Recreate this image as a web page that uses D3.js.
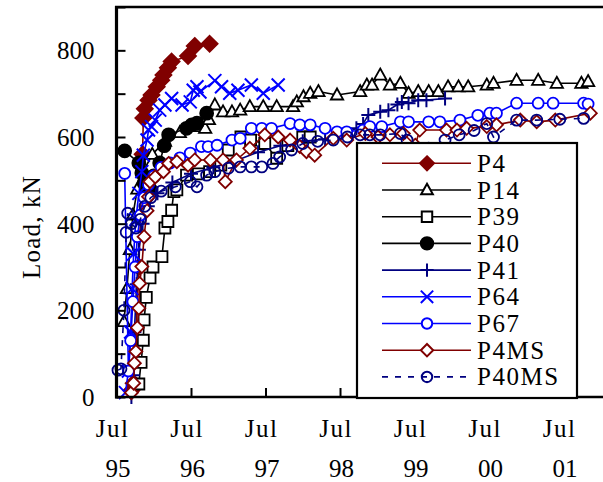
<!DOCTYPE html>
<html><head><meta charset="utf-8">
<script src="https://cdn.jsdelivr.net/npm/d3@7"></script>
<style>
body{margin:0;background:#fff}
</style>
</head><body>
<svg id="c" width="603" height="482" font-family="Liberation Serif"></svg>
<script>
// ---------- DATA (time in decimal years, load in kN) ----------
const seriesNames = ["P4","P14","P39","P40","P41","P64","P67","P4MS","P40MS"];

const p4 = [[1995.70,15],[1995.73,32],[1995.80,300],[1995.85,560],[1995.86,644],[1995.88,665],[1995.93,685],[1995.97,697],[1996.04,716],[1996.10,731],[1996.13,743],[1996.19,760],[1996.24,774],[1996.46,787],[1996.55,810],[1996.75,815]];

const p14 = [[1995.60,174],[1995.64,250],[1995.68,340],[1995.72,420],[1995.78,480],[1995.86,520],[1995.98,560],[1996.15,590],[1996.35,610],[1996.62,624],[1996.69,620],[1996.74,640],[1996.82,674],[1996.93,658],[1997.05,658],[1997.16,662],[1997.29,670],[1997.47,670],[1997.65,670],[1997.87,670],[1997.92,681],[1998.01,693],[1998.10,701],[1998.21,705],[1998.46,697],[1998.77,705],[1998.86,720],[1998.93,720],[1999.04,743],[1999.17,720],[1999.31,724],[1999.42,701],[1999.55,705],[1999.69,705],[1999.82,705],[1999.95,716],[2000.09,716],[2000.22,716],[2000.47,720],[2000.56,724],[2000.87,731],[2001.16,731],[2001.41,724],[2001.74,724],[2001.83,728]];

const p39 = [[1995.80,30],[1995.83,80],[1995.86,131],[1995.87,178],[1995.90,230],[1995.95,275],[1995.99,300],[1996.11,324],[1996.15,390],[1996.19,405],[1996.24,431],[1996.27,474],[1996.31,478],[1996.44,512],[1996.60,515],[1996.75,520],[1996.90,535],[1997.00,570],[1997.17,600],[1997.30,593],[1997.49,585],[1997.65,551],[1997.80,580],[1998.00,600],[1998.10,600]];

const p40 = [[1995.61,568],[1995.80,540],[1995.84,517],[1995.87,494],[1995.90,470],[1995.95,480],[1996.00,510],[1996.08,540],[1996.14,580],[1996.20,605],[1996.44,620],[1996.51,628],[1996.58,632],[1996.71,655]];

const p41 = [[1995.70,0],[1995.72,50],[1995.74,150],[1995.77,260],[1995.80,340],[1995.85,400],[1995.92,440],[1996.05,470],[1996.25,495],[1996.50,515],[1996.80,530],[1997.10,545],[1997.40,565],[1997.70,580],[1998.00,590],[1998.30,595],[1998.55,605],[1998.72,620],[1998.81,630],[1998.88,651],[1999.04,658],[1999.15,662],[1999.27,675],[1999.33,681],[1999.42,678],[1999.55,685],[1999.66,685],[1999.91,689]];

const p64 = [[1995.62,10],[1995.66,60],[1995.69,150],[1995.71,250],[1995.73,330],[1995.76,410],[1995.80,470],[1995.84,520],[1995.86,558],[1995.91,593],[1995.93,616],[1995.97,624],[1996.02,639],[1996.08,662],[1996.15,674],[1996.24,689],[1996.38,674],[1996.49,681],[1996.53,708],[1996.58,716],[1996.62,704],[1996.82,730],[1996.91,716],[1997.02,701],[1997.13,708],[1997.31,720],[1997.47,701],[1997.67,720]];

const p67 = [[1995.61,516],[1995.66,60],[1995.69,130],[1995.72,220],[1995.75,300],[1995.78,370],[1995.82,420],[1995.87,460],[1995.93,490],[1996.00,510],[1996.10,530],[1996.22,540],[1996.35,552],[1996.49,563],[1996.64,578],[1996.73,578],[1996.85,581],[1997.05,593],[1997.16,597],[1997.31,620],[1997.45,620],[1997.58,620],[1997.83,631],[1997.96,628],[1998.10,628],[1998.30,620],[1998.46,612],[1998.59,612],[1998.81,616],[1998.90,624],[1999.06,624],[1999.31,635],[1999.42,635],[1999.69,635],[1999.84,635],[2000.11,639],[2000.35,650],[2000.51,655],[2000.60,655],[2000.87,678],[2001.16,678],[2001.36,678],[2001.77,678],[2001.83,676]];

const p4ms = [[1995.70,10],[1995.73,32],[1995.74,78],[1995.76,105],[1995.78,160],[1995.80,205],[1995.81,262],[1995.84,301],[1995.87,370],[1995.91,430],[1995.93,462],[1995.95,497],[1996.02,508],[1996.13,520],[1996.20,539],[1996.31,543],[1996.46,535],[1996.55,547],[1996.76,547],[1996.93,547],[1996.96,497],[1997.11,547],[1997.29,574],[1997.49,605],[1997.67,600],[1997.83,593],[1997.96,578],[1998.05,566],[1998.16,558],[1998.41,597],[1998.59,593],[1998.84,608],[1999.01,600],[1999.17,605],[1999.35,608],[1999.51,581],[1999.57,616],[1999.93,616],[2000.07,616],[2000.20,620],[2000.47,624],[2000.60,628],[2000.92,639],[2001.14,635],[2001.39,639],[2001.86,655]];

const p40ms = [[1995.52,62],[1995.56,65],[1995.60,200],[1995.63,380],[1995.65,424],[1995.70,400],[1995.76,390],[1995.82,410],[1995.88,440],[1995.96,460],[1996.10,475],[1996.29,485],[1996.49,497],[1996.58,485],[1996.71,512],[1996.82,520],[1997.00,528],[1997.16,531],[1997.31,531],[1997.45,531],[1997.60,539],[1997.69,554],[1997.85,570],[1998.00,585],[1998.20,590],[1998.41,593],[1998.60,600],[1998.77,605],[1998.90,605],[1999.04,605],[1999.31,608],[1999.40,593],[1999.69,574],[1999.91,593],[2000.10,605],[2000.30,615],[2000.47,631],[2000.56,600],[2000.87,639],[2001.14,639],[2001.45,641],[2001.77,643]];

const seriesData = [p4,p14,p39,p40,p41,p64,p67,p4ms,p40ms];

const yTickValues = [0,100,200,300,400,500,600,700,800,900];
const yTickLabels = ["0","","200","","400","","600","","800",""];
const xTickValues = [1995.5,1996.5,1997.5,1998.5,1999.5,2000.5,2001.5];
const xTickMonth = ["Jul","Jul","Jul","Jul","Jul","Jul","Jul"];
const xTickYear = ["95","96","97","98","99","00","01"];
const yTitle = "Load, kN";

// ---------- STYLES ----------
const FONT = "Liberation Serif";
const DRED="#800000", BLUE="#0000ff", NAVY="#000080", BLK="#000";
const styles = [
  {color:DRED, marker:"diamond", size:8, fill:DRED},
  {color:BLK, marker:"triangle", size:6.5, fill:"#fff"},
  {color:BLK, marker:"square", size:5.5, fill:"#fff"},
  {color:BLK, marker:"circle", size:6.5, fill:BLK},
  {color:NAVY, marker:"plus", size:7, fill:"none"},
  {color:BLUE, marker:"x", size:6.5, fill:"none"},
  {color:BLUE, marker:"circle", size:5.5, fill:"#fff"},
  {color:DRED, marker:"diamond", size:6.5, fill:"#fff"},
  {color:NAVY, marker:"circle", size:5.5, fill:"none", dash:"6,7"}
];

function markerPath(type, s){
  switch(type){
    case "diamond": return `M0,${-s}L${s},0L0,${s}L${-s},0Z`;
    case "triangle": return `M0,${-s}L${s*0.95},${s*0.7}L${-s*0.95},${s*0.7}Z`;
    case "square": return `M${-s},${-s}H${s}V${s}H${-s}Z`;
    case "circle": return `M${s},0A${s},${s} 0 1,1 ${-s},0A${s},${s} 0 1,1 ${s},0Z`;
    case "plus": return `M${-s},0H${s}M0,${-s}V${s}`;
    case "x": return `M${-s},${-s}L${s},${s}M${-s},${s}L${s},${-s}`;
  }
}

// ---------- CHART ----------
const svg = d3.select("#c");
const x = d3.scaleLinear().domain([1995.5, 2002.03]).range([116.5, 603]);
const y = d3.scaleLinear().domain([0, 900]).range([397, 7]);

const line = d3.line().x(d=>x(d[0])).y(d=>y(d[1]));

const plot = svg.append("g");
seriesData.forEach((data,i)=>{
  const st = styles[i];
  const g = plot.append("g");
  g.append("path").datum(data).attr("d", line)
    .attr("fill","none").attr("stroke", st.color).attr("stroke-width",1.6)
    .attr("stroke-dasharray", st.dash || null);
  g.selectAll("path.m").data(data).join("path").attr("class","m")
    .attr("transform", d=>`translate(${x(d[0])},${y(d[1])})`)
    .attr("d", markerPath(st.marker, st.size))
    .attr("fill", st.fill).attr("stroke", st.color)
    .attr("stroke-width", st.marker==="plus"||st.marker==="x" ? 2 : 1.8);
});

// axes
const yAxis = d3.axisLeft(y).tickValues(yTickValues)
  .tickFormat((d,i)=>yTickLabels[i]).tickSizeInner(-9).tickSizeOuter(0).tickPadding(22);
const gy = svg.append("g").attr("transform","translate(116.5,0)").call(yAxis)
  .attr("font-family", FONT).attr("font-size", 25);
gy.select(".domain").remove();
gy.selectAll(".tick line").attr("stroke","#000").attr("stroke-width",2);
gy.selectAll(".tick text").attr("fill","#000").attr("dy","0.34em");

const xAxis = d3.axisBottom(x).tickValues(xTickValues).tickFormat("").tickSizeInner(-9).tickSizeOuter(0);
const gx = svg.append("g").attr("transform","translate(0,397)").call(xAxis);
gx.select(".domain").remove();
gx.selectAll(".tick line").attr("stroke","#000").attr("stroke-width",2);

const xl = svg.append("g").attr("font-family", FONT).attr("font-size", 25);
xl.selectAll("text.m").data(xTickValues).join("text").attr("class","m")
  .attr("x", d=>x(d)-4).attr("y",437).attr("text-anchor","middle")
  .attr("letter-spacing",1.5).text((d,i)=>xTickMonth[i]);
xl.selectAll("text.yr").data(xTickValues).join("text").attr("class","yr")
  .attr("x", d=>x(d)+1.5).attr("y",477).attr("text-anchor","middle")
  .text((d,i)=>xTickYear[i]);

// frame lines
svg.append("line").attr("x1",116.5).attr("x2",116.5).attr("y1",6).attr("y2",398.5)
  .attr("stroke","#000").attr("stroke-width",3.2);
svg.append("line").attr("x1",115).attr("x2",603).attr("y1",397).attr("y2",397)
  .attr("stroke","#000").attr("stroke-width",2.6);
svg.append("line").attr("x1",115).attr("x2",603).attr("y1",7).attr("y2",7)
  .attr("stroke","#000").attr("stroke-width",2.6);

// y title
svg.append("text").attr("transform","translate(40,227) rotate(-90)")
  .attr("text-anchor","middle").attr("font-family",FONT).attr("font-size",25)
  .attr("letter-spacing",1.2).text(yTitle);

// legend
const lg = svg.append("g");
lg.append("rect").attr("x",357).attr("y",143).attr("width",220).attr("height",255)
  .attr("fill","#fff").attr("stroke","#000").attr("stroke-width",2.2);
seriesNames.forEach((name,i)=>{
  const st = styles[i];
  const cy = 163.3 + i*26.7;
  lg.append("line").attr("x1",382).attr("x2",471).attr("y1",cy).attr("y2",cy)
    .attr("stroke",st.color).attr("stroke-width",1.6).attr("stroke-dasharray",st.dash||null);
  lg.append("path").attr("transform",`translate(427,${cy})`)
    .attr("d", markerPath(st.marker, st.marker==="diamond"&&i===0 ? 7 : st.size*0.95))
    .attr("fill", st.fill)
    .attr("stroke", st.color).attr("stroke-width", 2);
  lg.append("text").attr("x",477).attr("y",cy+8.5).attr("font-family",FONT).attr("font-size",25)
    .attr("letter-spacing",1.5).text(name);
});
</script>
</body></html>
